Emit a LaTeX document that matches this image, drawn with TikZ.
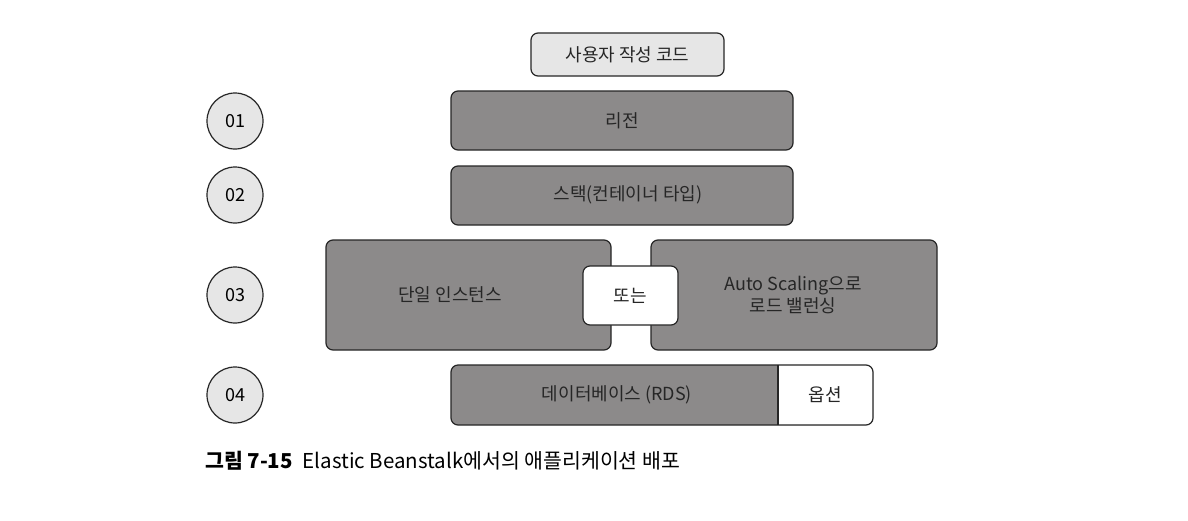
\documentclass[tikz,border=0pt]{standalone}
\usepackage{fontspec}
\setmainfont{Noto Sans CJK KR}
\usetikzlibrary{positioning}
\definecolor{darkbox}{HTML}{8C8A8A}
\definecolor{lightbox}{HTML}{E6E6E6}
\begin{document}
\begin{tikzpicture}[x=1pt,y=-1pt,
  lbl/.style={font=\fontsize{18}{22}\selectfont, text=black!85},
  darkstyle/.style={draw=black!85, line width=1.2pt, fill=darkbox, rounded corners=7pt},
  lightstyle/.style={draw=black!85, line width=1.2pt, fill=lightbox, rounded corners=7pt},
  whitestyle/.style={draw=black!85, line width=1.2pt, fill=white, rounded corners=7pt},
  numcirc/.style={circle, draw=black!85, line width=1.2pt, fill=lightbox, minimum size=56pt, inner sep=0pt, font=\fontsize{18}{20}\selectfont}]
\useasboundingbox (0,0) rectangle (1188,520);
\fill[white] (0,0) rectangle (1188,520);

% top box
\draw[lightstyle] (531,33) rectangle (724,76);
\node[lbl] (code) at (627.5,54.5) {사용자 작성 코드};

% 01 region
\draw[darkstyle] (451,91) rectangle (793,150);
\node[lbl] (region) at (622,121) {리전};
% 02 stack
\draw[darkstyle] (451,166) rectangle (793,225);
\node[lbl] (stack) at (628,195) {스택(컨테이너 타입)};
% 03
\draw[darkstyle] (326,240) rectangle (611,350);
\node[lbl] (single) at (450,295) {단일 인스턴스};
\draw[darkstyle] (651,240) rectangle (937,350);
\node[lbl, align=center] (auto) at (793,295) {Auto Scaling으로\\로드 밸런싱};
\draw[whitestyle] (583,266) rectangle (678,325);
\node[lbl] (or) at (630.5,295.5) {또는};
% 04
\fill[darkbox, rounded corners=7pt] (451,365) rectangle (873,425);
\begin{scope}
  \clip[rounded corners=7pt] (451,365) rectangle (873,425);
  \fill[white] (778,365) rectangle (873,425);
\end{scope}
\draw[draw=black!85, line width=1.2pt, rounded corners=7pt] (451,365) rectangle (873,425);
\draw[draw=black!85, line width=1.2pt] (778,365) -- (778,425);
\node[lbl] (db) at (617,395) {데이터베이스 (RDS)};
\node[lbl] (opt) at (825.5,395) {옵션};

% circles
\node[numcirc] (c1) at (235,121) {01};
\node[numcirc] (c2) at (235,195) {02};
\node[numcirc] (c3) at (235,295) {03};
\node[numcirc] (c4) at (235,395) {04};

% caption
\node[anchor=west, font=\fontsize{20.5}{24}\selectfont, inner sep=0pt] (cap) at (205,461)
  {\textbf{그림 7-15}\hspace{10pt}Elastic Beanstalk에서의 애플리케이션 배포};
\end{tikzpicture}
\end{document}
